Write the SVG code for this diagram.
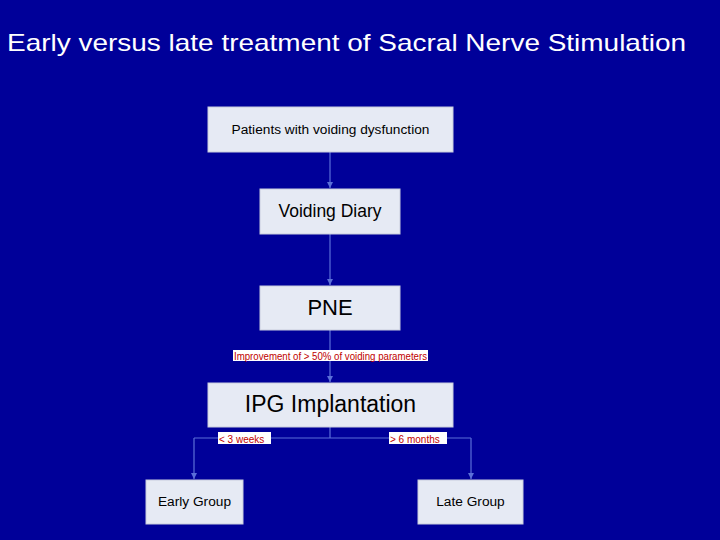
<svg xmlns="http://www.w3.org/2000/svg" width="720" height="540" viewBox="0 0 720 540">
<style>
.box{fill:#E6EAF4;stroke:#C8CCDD;stroke-width:1}
.t{font-family:"Liberation Sans",Arial,sans-serif;fill:#000;text-anchor:middle}
.c{stroke:#5B6FD8;stroke-width:1.2;fill:none}
.lb{fill:#fff}
.lt{font-family:"Liberation Sans",Arial,sans-serif;fill:#C00000;font-size:10px}
</style>
<defs><marker id="a" markerWidth="6" markerHeight="5" refX="5" refY="2.5" orient="auto"><path d="M0,0L5,2.5L0,5z" fill="#5B6FD8"/></marker></defs>
<rect width="720" height="540" fill="#000099"/>
<text x="7" y="51" font-family="Liberation Sans,Arial,sans-serif" font-size="24" textLength="679" lengthAdjust="spacingAndGlyphs" fill="#fff">Early versus late treatment of Sacral Nerve Stimulation</text>
<g id="connectors">
<path class="c" d="M330,152V188" marker-end="url(#a)"/>
<path class="c" d="M330,234V285" marker-end="url(#a)"/>
<path class="c" d="M330,330V382" marker-end="url(#a)"/>
<path class="c" d="M330,427V438M194,438H471M194,438V479" marker-end="url(#a)"/>
<path class="c" d="M471,438V479" marker-end="url(#a)"/>
<rect class="lb" x="233" y="350" width="195" height="11"/>
<text class="lt" x="234" y="359.5" textLength="193" lengthAdjust="spacingAndGlyphs">Improvement of &gt; 50% of voiding parameters</text>
<rect class="lb" x="218" y="432" width="53" height="12"/>
<text class="lt" x="219" y="442.5" font-size="12">&lt; 3 weeks</text>
<rect class="lb" x="389" y="432" width="58" height="12"/>
<text class="lt" x="390" y="442.5" font-size="12">&gt; 6 months</text>
</g>
<g id="n1"><rect class="box" x="208" y="107" width="245" height="45"/><text class="t" x="330.5" y="134" font-size="13.7">Patients with voiding dysfunction</text></g>
<g id="n2"><rect class="box" x="260" y="189" width="140" height="45"/><text class="t" x="330" y="217" font-size="17.5">Voiding Diary</text></g>
<g id="n3"><rect class="box" x="260" y="286" width="140" height="44"/><text class="t" x="330" y="315" font-size="22">PNE</text></g>
<g id="n4"><rect class="box" x="208" y="383" width="245" height="44"/><text class="t" x="330.5" y="412" font-size="23">IPG Implantation</text></g>
<g id="n5"><rect class="box" x="146" y="480" width="97" height="44"/><text class="t" x="194.5" y="506" font-size="13.7">Early Group</text></g>
<g id="n6"><rect class="box" x="418" y="480" width="105" height="44"/><text class="t" x="470.5" y="506" font-size="13.7">Late Group</text></g>
</svg>
